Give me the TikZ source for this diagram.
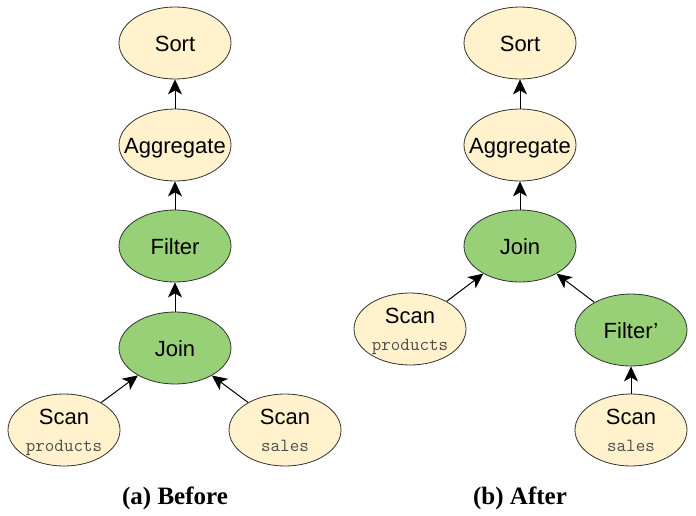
\documentclass[tikz,border=0pt]{standalone}
\usepackage{fontspec}
\setmainfont{Liberation Serif}
\newfontfamily\opfont{Liberation Sans}
\usepackage{tikz}
\usetikzlibrary{arrows.meta,shapes.geometric}
\definecolor{cream}{HTML}{FFF2CC}
\definecolor{leaf}{HTML}{97D077}
\definecolor{rim}{HTML}{333333}
\definecolor{relgray}{HTML}{4D4D4D}
\newcommand\scanof[1]{Scan\\[1pt]{\fontsize{18.5}{18.5}\selectfont\ttfamily\color{relgray}#1}}

\begin{document}
\begin{tikzpicture}[
      x=1pt, y=-1pt,
      op/.style={
        ellipse, draw=rim, line width=0.8pt,
        minimum width=112pt, minimum height=72pt,
        inner xsep=-14pt, inner ysep=0pt,
        font=\opfont\fontsize{22}{26}\selectfont
      },
      oneline/.style={op, text height=16pt, text depth=0pt},
      scan/.style={op, fill=cream, align=center, text depth=-6pt},
      flow/.style={-{Stealth[length=15pt,width=14pt,inset=4pt]}, line width=1pt, black},
      caption/.style={font=\bfseries\fontsize{25}{29}\selectfont}
    ]
      \useasboundingbox (0,0) rectangle (696,515);

      % (a) before
      \foreach \y/\n/\t/\c in {43/sa/Sort/cream,145/aa/Aggregate/cream,
                               246/fa/Filter/leaf,348/ja/Join/leaf} {
        \node[oneline, fill=\c] (\n) at (175,\y){\t};
      }
      \node[scan] (pa) at (64,430){\scanof{products}};
      \node[scan] (la) at (285,430){\scanof{sales}};

      \draw[flow] (aa)--(sa);
      \draw[flow] (fa)--(aa);
      \draw[flow] (ja)--(fa);
      \draw[flow] (pa)--(ja);
      \draw[flow] (la)--(ja);

      % (b) after
      \foreach \y/\n/\t/\c in {43/sb/Sort/cream,145/ab/Aggregate/cream,
                               246/jb/Join/leaf} {
        \node[oneline, fill=\c] (\n) at (520,\y){\t};
      }
      \node[oneline, fill=leaf] (fb) at (631,330){Filter’};
      \node[scan] (pb) at (410,329){\scanof{products}};
      \node[scan] (lb) at (631,430){\scanof{sales}};

      \draw[flow] (ab)--(sb);
      \draw[flow] (jb)--(ab);
      \draw[flow] (pb)--(jb);
      \draw[flow] (fb)--(jb);
      \draw[flow] (lb)--(fb);

      \node[caption] (capa) at (175,498){(a) Before};
      \node[caption] (capb) at (520,498){(b) After};
    \end{tikzpicture}
\end{document}
